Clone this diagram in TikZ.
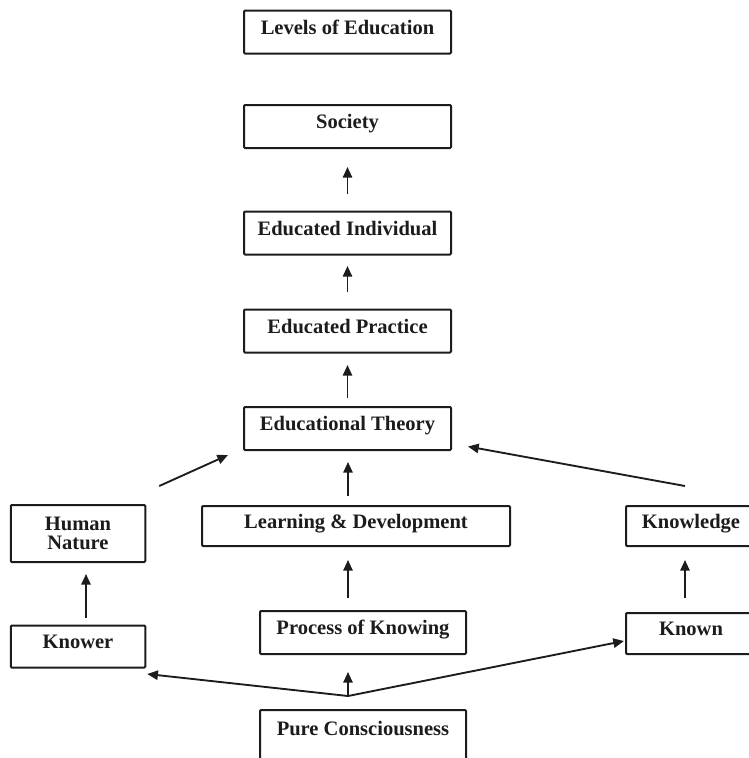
\documentclass[tikz,border=0pt]{standalone}
\usepackage{fontspec}
\setmainfont{Liberation Serif}
\usetikzlibrary{arrows.meta}
\definecolor{ink}{HTML}{1C1C1C}
\tikzset{
  levelbox/.style={draw=ink, line width=1.5pt, rounded corners=0.8pt, fill=white,
    text=ink, font=\fontsize{15.4pt}{17pt}\selectfont\bfseries,
    text height=0.7em, text depth=0.35em, inner sep=0pt, align=center},
  upar/.style={draw=ink, line width=1.4pt, -{Triangle[length=8pt,width=7pt]}}
}
\begin{document}
\begin{tikzpicture}[x=0.75pt,y=-0.75pt]
\useasboundingbox (0,0) rectangle (749,758);
\clip (0,0) rectangle (749,758);

% main column
\node[levelbox, minimum width=207*0.75pt, minimum height=43*0.75pt] (loe) at (347.5,32) {Levels of Education};
\node[levelbox, minimum width=207*0.75pt, minimum height=43*0.75pt] (soc) at (347.5,126.5) {Society};
\node[levelbox, minimum width=207*0.75pt, minimum height=43*0.75pt] (ei) at (347.5,233) {Educated Individual};
\node[levelbox, minimum width=207*0.75pt, minimum height=43*0.75pt] (ep) at (347.5,331) {Educated Practice};
\node[levelbox, minimum width=207*0.75pt, minimum height=43*0.75pt] (et) at (347.5,428.5) {Educational Theory};
\node[levelbox, minimum width=308*0.75pt, minimum height=40*0.75pt] (ld) at (356,526) {Learning \& Development};
\node[levelbox, minimum width=206*0.75pt, minimum height=43*0.75pt] (pk) at (363,632.5) {Process of Knowing};
\node[levelbox, minimum width=206*0.75pt, minimum height=54*0.75pt, text depth=0.35em+6pt] (pc) at (363,737) {Pure Consciousness};

% side columns
\node[levelbox, minimum width=134.5*0.75pt, minimum height=57*0.75pt, text height=, text depth=] (hn) at (78,533.5) {Human\\[-3pt]Nature};
\node[levelbox, minimum width=134.5*0.75pt, minimum height=42*0.75pt] (kr) at (78,646.5) {Knower};
\node[levelbox, minimum width=130*0.75pt, minimum height=40*0.75pt] (kg) at (691,526) {Knowledge};
\node[levelbox, minimum width=130*0.75pt, minimum height=41*0.75pt] (kn) at (691,633.5) {Known};

% vertical links of the main column
\draw[upar, shorten <=16.5*0.75pt, shorten >=18*0.75pt] (ei.north) -- (soc.south);
\draw[upar, shorten <=16.5*0.75pt, shorten >=10.5*0.75pt] (ep.north) -- (ei.south);
\draw[upar, shorten <=8*0.75pt, shorten >=11.5*0.75pt] (et.north) -- (ep.south);
\draw[upar, shorten <=9*0.75pt, shorten >=11*0.75pt] ([shift={(-8,0)}]ld.north) -- ([shift={(0.5,0)}]et.south);
\draw[upar, shorten <=12*0.75pt, shorten >=13*0.75pt] ([shift={(-15,0)}]pk.north) -- ([shift={(-8,0)}]ld.south);

% side links
\draw[upar, shorten <=6.5*0.75pt, shorten >=11*0.75pt] ([shift={(8,0)}]kr.north) -- ([shift={(8,0)}]hn.south);
\draw[upar, shorten <=14*0.75pt, shorten >=13*0.75pt] ([shift={(-6,0)}]kn.north) -- ([shift={(-6,0)}]kg.south);
\draw[upar] ([shift={(13,-18)}]hn.north east) -- ([shift={(-15,4)}]et.south west);
\draw[upar] ([shift={(-6,-19)}]kg.north) -- ([shift={(16,-4.5)}]et.south east);

% branching from pure consciousness
\coordinate (fork) at ([shift={(-15,-13)}]pc.north);
\draw[upar] (fork) -- ([shift={(-15,17)}]pk.south);
\draw[upar] (fork) -- ([shift={(1,5.5)}]kr.south east);
\draw[upar] (fork) -- ([shift={(-1,7.5)}]kn.west);
\end{tikzpicture}
\end{document}
